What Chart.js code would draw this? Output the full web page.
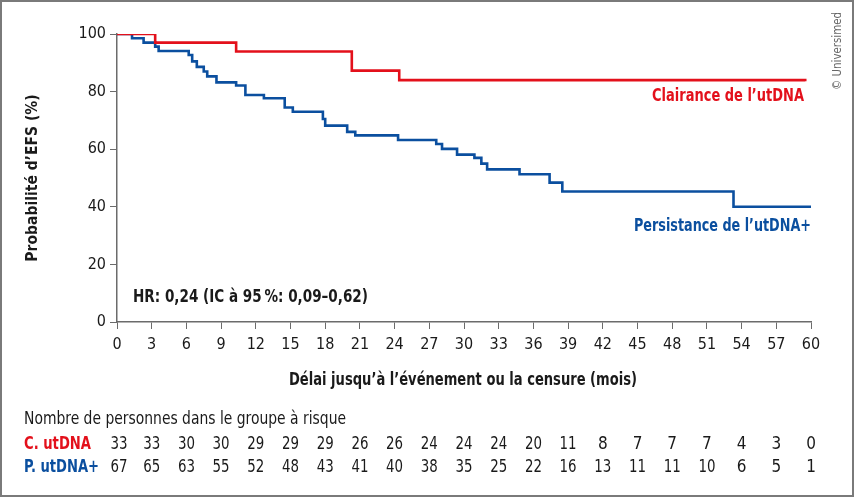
<!DOCTYPE html>
<html>
<head>
<meta charset="utf-8">
<script src="https://cdn.jsdelivr.net/npm/chart.js@4.4.1/dist/chart.umd.min.js"></script>
<style>
  html, body { margin: 0; padding: 0; background: #fff; }
  #wrap { width: 854px; height: 498px; position: relative; }
</style>
</head>
<body>
<div id="wrap"><canvas id="km"></canvas></div>
<script>
// Tick labels
const monthTicks = [0, 3, 6, 9, 12, 15, 18, 21, 24, 27, 30, 33, 36, 39, 42, 45, 48, 51, 54, 57, 60];
const percentTicks = [0, 20, 40, 60, 80, 100];

// Kaplan-Meier steps (months, % EFS)
const clearTimes = [0, 3.3, 10.3, 20.3, 24.4, 59.5];
const clearSurv  = [100, 97.0, 93.9, 87.3, 84.0, 83.6];

const persistTimes = [0, 1.3, 2.3, 3.3, 3.6, 6.2, 6.5, 6.9, 7.5, 7.8, 8.6, 10.3, 11.1, 12.7, 14.5, 15.2,
  17.8, 18.0, 19.9, 20.6, 24.3, 27.6, 28.1, 29.4, 30.9, 31.5, 32.0, 34.8, 37.4, 38.5, 53.3, 60];
const persistSurv  = [100, 98.5, 97.0, 95.6, 94.1, 92.7, 90.5, 88.6, 87.0, 85.3, 83.2, 82.1, 78.8, 77.7, 74.5, 73.0,
  70.5, 68.2, 66.0, 64.8, 63.2, 61.8, 60.1, 58.1, 57.0, 55.0, 53.0, 51.3, 48.4, 45.3, 40.0, 40.0];

// Number at risk
const atRiskClear   = [33, 33, 30, 30, 29, 29, 29, 26, 26, 24, 24, 24, 20, 11, 8, 7, 7, 7, 4, 3, 0];
const atRiskPersist = [67, 65, 63, 55, 52, 48, 43, 41, 40, 38, 35, 25, 22, 16, 13, 11, 11, 10, 6, 5, 1];

const RED = '#e3101b';
const BLUE = '#0b4f9f';
const AXIS = '#6b6b6b';
const TEXT = '#1a1a1a';
const FONT = "'DejaVu Sans Condensed', 'Liberation Sans', sans-serif";

const toPoints = (xs, ys) => xs.map((x, i) => ({ x: x, y: ys[i] }));

// Frame, annotations and risk table (maxWidth squeezes text to the original's narrow face)
const overlay = {
  id: 'overlay',
  beforeDraw(chart) {
    const c = chart.ctx;
    c.save();
    c.fillStyle = '#fff';
    c.fillRect(0, 0, chart.width, chart.height);
    c.restore();
  },
  afterDraw(chart) {
    const c = chart.ctx;
    const xs = chart.scales.x;
    c.save();

    // frame
    c.strokeStyle = '#7a7a7a';
    c.lineWidth = 2;
    c.strokeRect(1, 1, chart.width - 2, chart.height - 3);

    c.textBaseline = 'middle';

    // x axis title
    c.font = 'bold 18px ' + FONT;
    c.textAlign = 'center';
    c.fillStyle = TEXT;
    c.fillText('D\u00e9lai jusqu\u2019\u00e0 l\u2019\u00e9v\u00e9nement ou la censure (mois)', 463, 380, 348);

    // curve labels
    c.font = 'bold 18px ' + FONT;
    c.textAlign = 'right';
    c.fillStyle = RED;
    c.fillText('Clairance de l\u2019utDNA', 804, 96, 152);
    c.fillStyle = BLUE;
    c.fillText('Persistance de l\u2019utDNA+', 811, 226, 177);

    // hazard ratio
    c.textAlign = 'left';
    c.fillStyle = TEXT;
    c.font = 'bold 17px ' + FONT;
    c.fillText('HR: 0,24 (IC \u00e0 95\u202f%: 0,09\u20130,62)', 133, 298, 235);

    // risk table
    c.font = '17px ' + FONT;
    c.fillText('Nombre de personnes dans le groupe \u00e0 risque', 24, 420, 322);
    c.font = 'bold 17px ' + FONT;
    c.fillStyle = RED;
    c.fillText('C. utDNA', 24, 445, 67);
    c.fillStyle = BLUE;
    c.fillText('P. utDNA+', 24, 468, 75);

    c.font = '17px ' + FONT;
    c.fillStyle = TEXT;
    c.textAlign = 'center';
    monthTicks.forEach((m, i) => {
      const px = xs.getPixelForValue(m) + (i === 0 ? 2 : 0);
      c.fillText(String(atRiskClear[i]), px, 445, 17);
      c.fillText(String(atRiskPersist[i]), px, 468, 17);
    });

    // copyright
    c.translate(838, 51);
    c.rotate(-Math.PI / 2);
    c.font = '12px ' + FONT;
    c.fillStyle = '#666';
    c.fillText('\u00a9 Universimed', 0, 0, 78);
    c.restore();
  }
};

new Chart(document.getElementById('km'), {
  type: 'line',
  data: {
    datasets: [
      {
        label: 'Clairance de l\u2019utDNA',
        data: toPoints(clearTimes, clearSurv),
        borderColor: RED,
        borderWidth: 2.6,
        stepped: true,
        pointRadius: 0,
        fill: false
      },
      {
        label: 'Persistance de l\u2019utDNA+',
        data: toPoints(persistTimes, persistSurv),
        borderColor: BLUE,
        borderWidth: 2.6,
        stepped: true,
        pointRadius: 0,
        fill: false
      }
    ]
  },
  options: {
    responsive: true,
    maintainAspectRatio: false,
    animation: false,
    layout: { padding: { left: 20, right: 43, top: 34, bottom: 106 } },
    plugins: {
      legend: { display: false },
      tooltip: { enabled: false }
    },
    scales: {
      x: {
        type: 'linear',
        min: 0,
        max: 60,
        afterBuildTicks: s => { s.ticks = monthTicks.map(v => ({ value: v })); },
        afterFit: s => { s.height = 70; },
        grid: { drawOnChartArea: false, drawTicks: true, tickLength: 7, color: AXIS },
        border: { display: true, color: AXIS, width: 1.5 },
        ticks: { color: TEXT, font: { family: FONT, size: 16 }, padding: 6, maxRotation: 0, autoSkip: false },
        title: { display: false }
      },
      y: {
        min: 0,
        max: 100,
        afterBuildTicks: s => { s.ticks = percentTicks.map(v => ({ value: v })); },
        afterFit: s => { s.width = 97; },
        grid: { drawOnChartArea: false, drawTicks: true, tickLength: 7, color: AXIS },
        border: { display: true, color: AXIS, width: 1.5 },
        ticks: { color: TEXT, font: { family: FONT, size: 16 }, padding: 4 },
        title: {
          display: true,
          text: 'Probabilit\u00e9 d\u2019EFS (%)',
          color: TEXT,
          font: { family: FONT, size: 15.5, weight: 'bold' },
          padding: { top: 4, bottom: 0 }
        }
      }
    }
  },
  plugins: [overlay]
});
</script>
</body>
</html>
